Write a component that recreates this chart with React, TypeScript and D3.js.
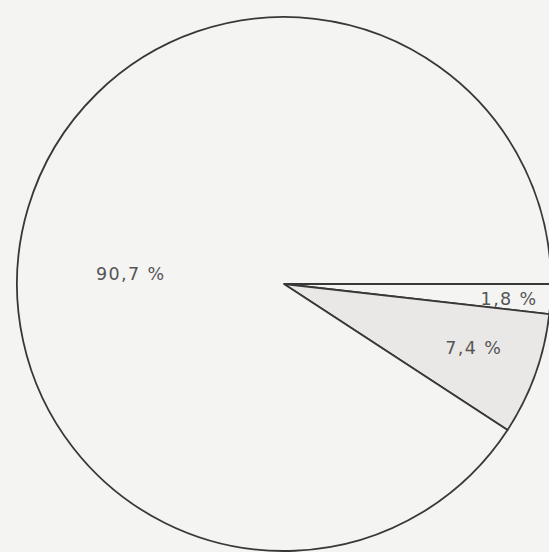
import React from "react";
import * as d3 from "d3";

const categories = ["a", "b", "c"];
const values = [1.8, 7.4, 90.7];
const labels = ["1,8 %", "7,4 %", "90,7 %"];
const fills = ["#f4f4f2", "#e9e8e7", "#f4f4f2"];

const W = 549;
const H = 552;
const CX = 284;
const CY = 284;
const R = 267;
const labelRadius = [0.845, 0.75, 0.575];
const labelAngleShift = [0.01, -0.02, -0.225];

type Datum = { cat: string; value: number; label: string; fill: string };

export default function App() {
  const data: Datum[] = categories.map((c, i) => ({
    cat: c,
    value: values[i],
    label: labels[i],
    fill: fills[i],
  }));
  const pie = d3
    .pie<Datum>()
    .sort(null)
    .value((d) => d.value)
    .startAngle(Math.PI / 2)
    .endAngle(Math.PI / 2 + 2 * Math.PI);
  const arcs = pie(data);
  const arc = d3.arc<d3.PieArcDatum<Datum>>().innerRadius(0).outerRadius(R);

  return (
    <svg
      width={W}
      height={H}
      style={{ position: "absolute", left: 0, top: 0, display: "block" }}
    >
      <rect x={0} y={0} width={W} height={H} fill="#f4f4f2" />
      <g transform={`translate(${CX},${CY})`}>
        {arcs.map((a) => (
          <path
            key={a.data.cat}
            d={arc(a) || ""}
            fill={a.data.fill}
            stroke="#383838"
            strokeWidth={1.8}
            strokeLinejoin="round"
          />
        ))}
        {arcs.map((a, i) => {
          const mid = (a.startAngle + a.endAngle) / 2 + labelAngleShift[i];
          const rr = R * labelRadius[i];
          const x = rr * Math.sin(mid);
          const y = -rr * Math.cos(mid);
          return (
            <text
              key={"l" + a.data.cat}
              x={x}
              y={y}
              textAnchor="middle"
              dominantBaseline="central"
              fontFamily="'DejaVu Sans', sans-serif"
              fontSize={17.5}
              letterSpacing={1.4}
              fill="#555555"
            >
              {a.data.label}
            </text>
          );
        })}
      </g>
    </svg>
  );
}
